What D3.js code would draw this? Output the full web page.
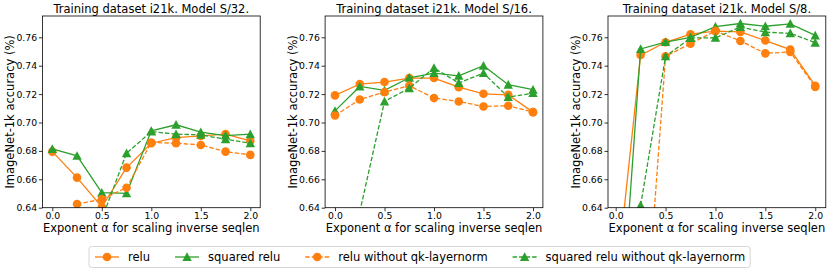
<!DOCTYPE html>
<html lang="en">
<head>
<meta charset="UTF-8" />
<title>Scaling inverse seqlen</title>
<script src="https://d3js.org/d3.v7.min.js"></script>
<style>
  body { margin: 0; background: #fff; }
  svg { font-family: "DejaVu Sans", sans-serif; display: block; }
</style>
</head>
<body>
<svg id="chart" width="830" height="272"></svg>
<script>
// exponent alpha on the x axis
const alphas = [0, 0.25, 0.5, 0.75, 1.0, 1.25, 1.5, 1.75, 2.0];
const yTicks = [0.64, 0.66, 0.68, 0.70, 0.72, 0.74, 0.76];
const xTicks = [0, 0.5, 1.0, 1.5, 2.0];

const titles = [
  "Training dataset i21k. Model S/32.",
  "Training dataset i21k. Model S/16.",
  "Training dataset i21k. Model S/8."
];

const seriesNames = ["relu", "squared relu", "relu without qk-layernorm", "squared relu without qk-layernorm"];

// S/32
const s32Relu     = [0.6795, 0.6612, 0.6405, 0.6682, 0.6854, 0.6894, 0.6906, 0.6918, 0.6870];
const s32SqRelu   = [0.6814, 0.6765, 0.6506, 0.6501, 0.6941, 0.6984, 0.6932, 0.6908, 0.6918];
const s32ReluNoLn = [null,   0.6426, 0.6459, 0.6541, 0.6859, 0.6854, 0.6842, 0.6795, 0.6772];
const s32SqNoLn   = [null,   null,   0.6320, 0.6784, 0.6936, 0.6918, 0.6913, 0.6882, 0.6854];

// S/16
const s16Relu     = [0.7191, 0.7271, 0.7285, 0.7313, 0.7313, 0.7249, 0.7202, 0.7195, 0.7073];
const s16SqRelu   = [0.7082, 0.7254, 0.7226, 0.7315, 0.7348, 0.7329, 0.7400, 0.7266, 0.7231];
const s16ReluNoLn = [0.7049, 0.7162, 0.7214, 0.7259, 0.7172, 0.7148, 0.7113, 0.7118, 0.7073];
const s16SqNoLn   = [null,   0.6370, 0.7148, 0.7242, 0.7384, 0.7278, 0.7348, 0.7179, 0.7207];

// S/8
const s8Relu      = [0.5830, 0.7475, 0.7565, 0.7622, 0.7643, 0.7638, 0.7577, 0.7513, 0.7259];
const s8SqRelu    = [0.5050, 0.7518, 0.7566, 0.7600, 0.7675, 0.7697, 0.7678, 0.7695, 0.7613];
const s8ReluNoLn  = [null,   0.5070, 0.7466, 0.7555, 0.7645, 0.7574, 0.7487, 0.7497, 0.7250];
const s8SqNoLn    = [null,   0.6417, 0.7466, 0.7595, 0.7597, 0.7672, 0.7636, 0.7628, 0.7562];

const panels = [
  [s32Relu, s32SqRelu, s32ReluNoLn, s32SqNoLn],
  [s16Relu, s16SqRelu, s16ReluNoLn, s16SqNoLn],
  [s8Relu, s8SqRelu, s8ReluNoLn, s8SqNoLn]
];

const orange = "#ff7f0e", green = "#2ca02c";
const styles = [
  { color: orange, marker: "circle",   dash: null },
  { color: green,  marker: "triangle", dash: null },
  { color: orange, marker: "circle",   dash: "4.5,2" },
  { color: green,  marker: "triangle", dash: "4.5,2" }
];

const svg = d3.select("#chart");
// axes boxes: left edge and x domain of each panel
const panelLeft = [42.4, 325.1, 608];
const xDomains = [[-0.1, 2.1], [-0.1, 2.1], [-0.077, 2.106]];
const plotW = 217.8, plotTop = 16, plotBottom = 207.7;

function drawMarker(g, type, x, y, color) {
  if (type === "circle") {
    g.append("circle").attr("cx", x).attr("cy", y).attr("r", 4.3).attr("fill", color);
  } else {
    const r = 4.7;
    g.append("path")
      .attr("d", `M${x},${y - r}L${x - r},${y + r * 0.85}L${x + r},${y + r * 0.85}Z`)
      .attr("fill", color);
  }
}

panels.forEach((series, pi) => {
  const x = d3.scaleLinear().domain(xDomains[pi]).range([panelLeft[pi], panelLeft[pi] + plotW]);
  const y = d3.scaleLinear().domain([0.64, 0.775]).range([plotBottom, plotTop]);
  const g = svg.append("g");

  svg.append("clipPath").attr("id", "clip" + pi)
    .append("rect").attr("x", x.range()[0]).attr("y", plotTop)
    .attr("width", plotW).attr("height", plotBottom - plotTop);

  const plot = g.append("g").attr("clip-path", `url(#clip${pi})`);
  const line = d3.line()
    .defined(d => d.v != null)
    .x(d => x(d.a)).y(d => y(d.v));

  series.forEach((vals, si) => {
    const st = styles[si];
    const pts = alphas.map((a, i) => ({ a: a, v: vals[i] }));
    plot.append("path")
      .datum(pts)
      .attr("d", line)
      .attr("fill", "none")
      .attr("stroke", st.color)
      .attr("stroke-width", 1.3)
      .attr("stroke-dasharray", st.dash);
    pts.filter(d => d.v != null).forEach(d => drawMarker(plot, st.marker, x(d.a), y(d.v), st.color));
  });

  // axes
  const xAxis = g.append("g").attr("transform", `translate(0,${plotBottom})`)
    .call(d3.axisBottom(x).tickValues(xTicks).tickFormat(d3.format(".1f")).tickSize(3.5).tickPadding(0.8));
  const yAxis = g.append("g").attr("transform", `translate(${x.range()[0]},0)`)
    .call(d3.axisLeft(y).tickValues(yTicks).tickFormat(d3.format(".2f")).tickSize(3.5).tickPadding(1.8));
  [xAxis, yAxis].forEach(ax => {
    ax.select(".domain").remove();
    ax.selectAll("text").attr("font-size", 9.3).attr("fill", "#000").attr("font-family", "DejaVu Sans");
    ax.selectAll("line").attr("stroke", "#000").attr("stroke-width", 0.8);
  });

  g.append("rect")
    .attr("x", x.range()[0]).attr("y", plotTop)
    .attr("width", plotW).attr("height", plotBottom - plotTop)
    .attr("fill", "none").attr("stroke", "#000").attr("stroke-width", 0.8);

  const cx = x.range()[0] + plotW / 2;
  g.append("text").attr("x", cx).attr("y", 12.5)
    .attr("text-anchor", "middle").attr("font-size", 11.5).text(titles[pi]);
  g.append("text").attr("x", cx).attr("y", 231.5)
    .attr("text-anchor", "middle").attr("font-size", 11.5).text("Exponent α for scaling inverse seqlen");
  const ly = (plotTop + plotBottom) / 2;
  const lx = x.range()[0] - 28;
  g.append("text").attr("transform", `translate(${lx},${ly}) rotate(-90)`)
    .attr("text-anchor", "middle").attr("font-size", 11.5).text("ImageNet-1k accuracy (%)");
});

// legend
const leg = svg.append("g");
const legBox = leg.append("rect")
  .attr("y", 246.5).attr("height", 21).attr("rx", 2.5)
  .attr("fill", "#fff").attr("stroke", "#d6d6d6").attr("stroke-width", 1);
let legX = 95;
const legMid = 257;
seriesNames.forEach((name, i) => {
  const st = styles[i];
  leg.append("line")
    .attr("x1", legX).attr("x2", legX + 24).attr("y1", legMid).attr("y2", legMid)
    .attr("stroke", st.color).attr("stroke-width", 1.3).attr("stroke-dasharray", st.dash);
  drawMarker(leg, st.marker, legX + 12, legMid, st.color);
  const t = leg.append("text").attr("x", legX + 33).attr("y", legMid + 4)
    .attr("font-size", 11.5).text(name);
  legX += 33 + t.node().getComputedTextLength() + 25;
});
legBox.attr("x", 89).attr("width", legX - 25 + 5 - 89);
</script>
</body>
</html>
